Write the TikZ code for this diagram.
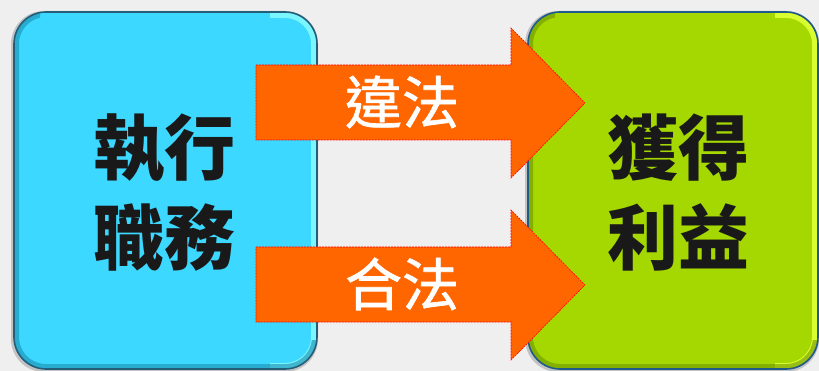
\documentclass[tikz,border=0pt]{standalone}
\usepackage{fontspec}
\newfontfamily\cjk{Noto Sans CJK TC}
\newfontfamily\cjkarrow[FakeBold=1.2]{Noto Sans CJK TC}
\definecolor{bgc}{HTML}{EFEFEF}
\definecolor{cyanbox}{HTML}{3CD8FF}
\definecolor{cyanedge}{HTML}{245E78}
\definecolor{cyanlight}{HTML}{7AF6FF}
\definecolor{cyandark}{HTML}{1A8DB0}
\definecolor{limebox}{HTML}{A4D800}
\definecolor{limeedge}{HTML}{1F5A8A}
\definecolor{limelight}{HTML}{D8FF30}
\definecolor{limedark}{HTML}{6E9400}
\definecolor{arroworange}{HTML}{FF6600}
\tikzset{
  boxshape/.style={rounded corners=32pt},
  arrowshape/.style={fill=arroworange, draw=red, line width=0.6pt, dash pattern=on 2pt off 1pt},
  boxtext/.style={font=\cjk\bfseries\fontsize{71}{90}\selectfont, align=center, text=black!90, inner sep=0pt},
  arrowtext/.style={font=\cjkarrow\fontsize{57}{60}\selectfont, text=white, inner sep=0pt},
}
\newcommand\lboxpath{(14,12) rectangle (317,369)}
\newcommand\rboxpath{(528,12) rectangle (818,369)}
\begin{document}
\begin{tikzpicture}[x=1pt,y=-1pt]
\useasboundingbox (0,0) rectangle (819,371);
\fill[bgc] (0,0) rectangle (819,371);
\begin{scope}
\clip (0,0) rectangle (819,371);
% shadows
\fill[black, opacity=0.18, rounded corners=33pt] (11,11) rectangle (318,372);
\fill[black, opacity=0.18, rounded corners=33pt] (525,11) rectangle (819,372);
% left box
\node[boxshape, fill=cyanbox, draw=none, minimum width=303pt, minimum height=357pt, inner sep=0pt] (src) at (165.5,190.5) {};
\begin{scope}
\clip[boxshape] \lboxpath;
\begin{scope}
\clip (270,0) rectangle (330,371);
\draw[cyanlight, line width=12pt, boxshape] \lboxpath;
\end{scope}
\begin{scope}
\clip (0,0) rectangle (40,371) (0,340) rectangle (330,371);
\draw[cyandark, opacity=0.6, line width=10pt, boxshape] \lboxpath;
\end{scope}
\end{scope}
\draw[cyanedge, line width=1.6pt, boxshape] \lboxpath;
% right box
\node[boxshape, fill=limebox, draw=none, minimum width=290pt, minimum height=357pt, inner sep=0pt] (dst) at (673,190.5) {};
\begin{scope}
\clip[boxshape] \rboxpath;
\begin{scope}
\clip (775,0) rectangle (830,371);
\draw[limelight, line width=12pt, boxshape] \rboxpath;
\end{scope}
\begin{scope}
\clip (500,0) rectangle (555,371) (500,340) rectangle (830,371);
\draw[limedark, opacity=0.6, line width=10pt, boxshape] \rboxpath;
\end{scope}
\end{scope}
\draw[limeedge, line width=1.6pt, boxshape] \rboxpath;
\end{scope}
% texts in boxes
\node[boxtext] (srctext) at (164,193) {執行\\職務};
\node[boxtext] (dsttext) at (678,193) {獲得\\利益};
% arrows
\draw[arrowshape] (256,65) -- (511,65) -- (511,28) -- (585,103) -- (511,178) -- (511,140) -- (256,140) -- cycle;
\draw[arrowshape] (256,247) -- (511,247) -- (511,210) -- (585,285) -- (511,360) -- (511,322) -- (256,322) -- cycle;
\node[arrowtext] (illegal) at (402,102) {違法};
\node[arrowtext] (legal) at (402,284) {合法};
\end{tikzpicture}
\end{document}
